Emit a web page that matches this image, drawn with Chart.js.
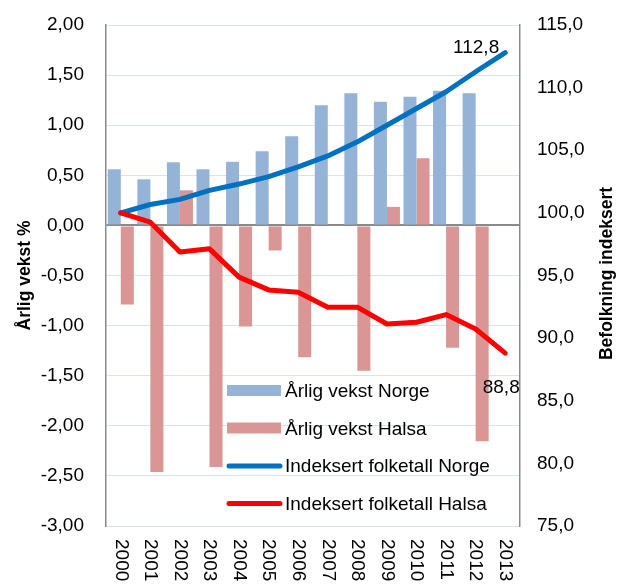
<!DOCTYPE html>
<html lang="no">
<head>
<meta charset="UTF-8">
<title>Årlig vekst og indeksert folketall</title>
<script src="https://cdn.jsdelivr.net/npm/chart.js@4"></script>
<style>
  body { margin: 0; background: #fff; }
  canvas { display: block; }
</style>
</head>
<body>
<canvas id="chart" width="621" height="585"></canvas>
<script>
const years = ['2000', '2001', '2002', '2003', '2004', '2005', '2006', '2007', '2008', '2009', '2010', '2011', '2012', '2013'];
const vekstNorge = [0.56, 0.46, 0.63, 0.56, 0.635, 0.74, 0.89, 1.20, 1.32, 1.235, 1.285, 1.345, 1.32, null];
const vekstHalsa = [-0.79, -2.46, 0.35, -2.41, -1.01, -0.25, -1.315, 0, -1.45, 0.185, 0.67, -1.22, -2.155, null];
const indeksNorge = [100, 100.67, 101.08, 101.8, 102.3, 102.9, 103.67, 104.55, 105.67, 107.0, 108.33, 109.67, 111.27, 112.8];
const indeksHalsa = [100, 99.26, 96.87, 97.13, 94.87, 93.85, 93.67, 92.47, 92.47, 91.13, 91.27, 91.88, 90.73, 88.8];

const FONT = '"Liberation Sans", Arial, sans-serif';
const komma = (v, d) => v.toFixed(d).replace('.', ',');

// x labels (rotated clockwise), right title, end labels and legend
const extras = {
    id: 'extras',
    afterDraw(chart) {
        const ctx = chart.ctx;
        const area = chart.chartArea;
        const xs = chart.scales.x;
        ctx.save();
        ctx.fillStyle = '#000';

        ctx.font = '19px ' + FONT;
        ctx.textAlign = 'left';
        ctx.textBaseline = 'middle';
        years.forEach((y, i) => {
            ctx.save();
            ctx.translate(xs.getPixelForValue(i), area.bottom + 13);
            ctx.rotate(Math.PI / 2);
            ctx.fillText(y, 0, 0);
            ctx.restore();
        });

        // right axis title, reading upwards
        ctx.save();
        ctx.font = 'bold 17.5px ' + FONT;
        ctx.textAlign = 'center';
        ctx.translate(chart.width - 14, (area.top + area.bottom) / 2 - 2);
        ctx.rotate(-Math.PI / 2);
        ctx.fillText('Befolkning indeksert', 0, 0);
        ctx.restore();

        // end value labels
        ctx.font = '19px ' + FONT;
        ctx.textBaseline = 'alphabetic';
        const last = years.length - 1;
        const pN = chart.getDatasetMeta(2).data[last];
        ctx.textAlign = 'right';
        ctx.fillText(komma(indeksNorge[last], 1), pN.x - 6, pN.y);
        const pH = chart.getDatasetMeta(3).data[last];
        ctx.textAlign = 'center';
        ctx.fillText(komma(indeksHalsa[last], 1), pH.x - 4, pH.y + 40);

        // legend inside the plot
        const lx = area.left + 121;
        const ly = area.top + 366;
        const rowH = 37.5;
        ctx.textAlign = 'left';
        ctx.textBaseline = 'middle';
        chart.data.datasets.forEach((ds, i) => {
            const cy = ly + i * rowH;
            if (ds.type === 'line') {
                ctx.strokeStyle = ds.borderColor;
                ctx.lineWidth = 5;
                ctx.lineCap = 'round';
                ctx.beginPath();
                ctx.moveTo(lx + 2, cy);
                ctx.lineTo(lx + 53, cy);
                ctx.stroke();
            } else {
                ctx.fillStyle = ds.backgroundColor;
                ctx.fillRect(lx, cy - 6, 54, 11);
            }
            ctx.fillStyle = '#000';
            ctx.fillText(ds.label, lx + 58, cy + 1);
        });
        ctx.restore();
    }
};

// fixed axis sizes so the plot area matches the original
function fixWidth(w) {
    return scale => {
        scale.width = w;
        scale.paddingTop = 0;
        scale.paddingBottom = 0;
    };
}

new Chart(document.getElementById('chart'), {
    data: {
        labels: years,
        datasets: [
            {
                type: 'bar',
                label: 'Årlig vekst Norge',
                data: vekstNorge,
                backgroundColor: '#95b3d7',
                yAxisID: 'y',
                order: 2,
                categoryPercentage: 0.88,
                barPercentage: 1.0
            },
            {
                type: 'bar',
                label: 'Årlig vekst Halsa',
                data: vekstHalsa,
                backgroundColor: '#d99694',
                yAxisID: 'y',
                order: 2,
                categoryPercentage: 0.88,
                barPercentage: 1.0
            },
            {
                type: 'line',
                label: 'Indeksert folketall Norge',
                data: indeksNorge,
                borderColor: '#0070c0',
                borderWidth: 5,
                pointRadius: 0,
                tension: 0,
                borderJoinStyle: 'round',
                borderCapStyle: 'round',
                yAxisID: 'y1',
                order: 1
            },
            {
                type: 'line',
                label: 'Indeksert folketall Halsa',
                data: indeksHalsa,
                borderColor: '#ff0000',
                borderWidth: 5,
                pointRadius: 0,
                tension: 0,
                borderJoinStyle: 'round',
                borderCapStyle: 'round',
                yAxisID: 'y1',
                order: 0
            }
        ]
    },
    options: {
        responsive: false,
        animation: false,
        devicePixelRatio: 1,
        layout: { padding: { top: 25, left: 0, right: 0, bottom: 0 } },
        plugins: {
            legend: { display: false },
            tooltip: { enabled: false }
        },
        scales: {
            x: {
                type: 'category',
                offset: true,
                grid: { display: false },
                border: { display: false },
                ticks: { display: false },
                afterFit(scale) { scale.height = 59; }
            },
            y: {
                position: 'left',
                min: -3,
                max: 2,
                afterFit: fixWidth(106),
                ticks: {
                    stepSize: 0.5,
                    padding: 22,
                    color: '#000',
                    font: { family: FONT, size: 19 },
                    callback: v => komma(v, 2)
                },
                grid: {
                    drawTicks: false,
                    color: c => (c.tick && c.tick.value === 0) ? '#8a8a8a' : '#d9e2f0',
                    lineWidth: c => (c.tick && c.tick.value === 0) ? 2 : 1
                },
                border: { display: true, color: '#8a8a8a', width: 1.5 },
                title: {
                    display: true,
                    text: 'Årlig vekst %',
                    color: '#000',
                    font: { family: FONT, size: 17.5, weight: 'bold' },
                    padding: { top: 15, bottom: 0 }
                }
            },
            y1: {
                position: 'right',
                min: 75,
                max: 115,
                afterFit: fixWidth(101),
                ticks: {
                    stepSize: 5,
                    padding: 17,
                    color: '#000',
                    font: { family: FONT, size: 19 },
                    callback: v => komma(v, 1)
                },
                grid: { display: false, drawTicks: false },
                border: { display: true, color: '#8a8a8a', width: 1.5 }
            }
        }
    },
    plugins: [extras]
});
</script>
</body>
</html>
